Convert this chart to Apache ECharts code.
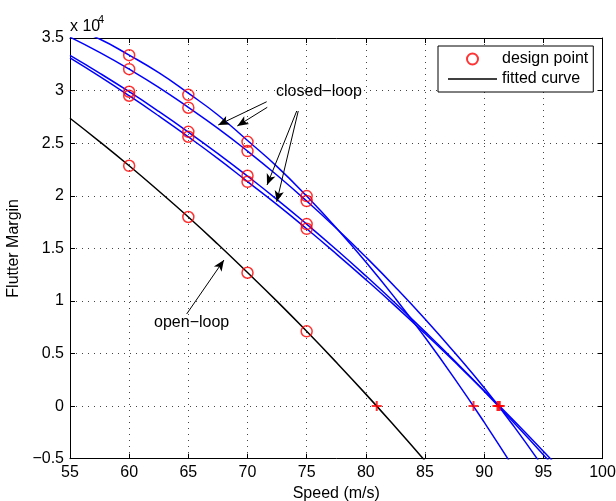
<!DOCTYPE html>
<html><head><meta charset="utf-8">
<script src="https://cdn.jsdelivr.net/npm/echarts@6/dist/echarts.min.js"></script>
<style>html,body{margin:0;padding:0;background:#fff}#c{width:616px;height:501px}</style>
</head><body><div id="c"></div>
<script>
// ---- data (Flutter Margin in units of 10^4) ----
const designSpeeds = [60, 65, 70, 75];
const designA = [3.337, 2.960, 2.513, 1.997];
const designB = [3.204, 2.837, 2.425, 1.950];
const designC = [2.989, 2.608, 2.190, 1.731];
const designD = [2.951, 2.561, 2.133, 1.686];
const designOpen = [2.285, 1.798, 1.268, 0.711];

const curveSpeeds = [55, 57.5, 60, 62.5, 65, 67.5, 70, 72.5, 75, 77.5, 80, 82.5, 85, 87.5, 90, 92.5, 95, 97.5];
const closedA = [3.603, 3.490, 3.337, 3.170, 2.975, 2.768, 2.525, 2.277, 1.997, 1.695, 1.371, 1.024, 0.654, 0.262, -0.153, -0.589, -1.050, -1.530];
const closedB = [3.508, 3.363, 3.204, 3.031, 2.840, 2.641, 2.425, 2.195, 1.950, 1.691, 1.418, 1.131, 0.829, 0.510, 0.175, -0.190, -0.585, -1.000];
const closedC = [3.334, 3.166, 2.989, 2.802, 2.606, 2.401, 2.187, 1.964, 1.731, 1.489, 1.238, 0.978, 0.708, 0.430, 0.142, -0.156, -0.462, -0.777];
const closedD = [3.311, 3.135, 2.951, 2.759, 2.560, 2.353, 2.135, 1.916, 1.686, 1.448, 1.203, 0.951, 0.690, 0.421, 0.146, -0.137, -0.429, -0.728];
const openCurve = [2.737, 2.515, 2.285, 2.045, 1.798, 1.539, 1.270, 0.996, 0.711, 0.417, 0.114, -0.199, -0.520];

const flutterSpeeds = [80.92, 89.10, 91.12, 91.22, 91.32];

const xMin = 55, xMax = 100, xStep = 5;
const yMin = -0.5, yMax = 3.5, yStep = 0.5;

// ---- build ----
const pairs = (xs, ys) => ys.map((y, i) => [xs[i], y]);
const FONT = "'Liberation Sans', Arial, Helvetica, sans-serif";
const fmt = v => String(v).replace('-', '\u2212');

const designPts = [].concat(
  pairs(designSpeeds, designA), pairs(designSpeeds, designB),
  pairs(designSpeeds, designC), pairs(designSpeeds, designD),
  pairs(designSpeeds, designOpen));

const blueLine = (name, ys) => ({
  name, type: 'line', data: pairs(curveSpeeds, ys), smooth: true, symbol: 'none',
  showSymbol: false, clip: true, lineStyle: { color: '#0000ff', width: 1.5 }, z: 3
});

const grid = { left: 70, top: 38, width: 532.5, height: 420.7, outerBoundsMode: 'none', containLabel: false };
const gridLine = { show: true, lineStyle: { color: '#444', width: 1, type: [1, 5] } };

const option = {
  animation: false,
  backgroundColor: '#fff',
  textStyle: { fontFamily: FONT },
  grid,
  xAxis: [{
    type: 'value', min: xMin, max: xMax, interval: xStep, position: 'bottom',
    axisLine: { onZero: false, lineStyle: { color: '#000', width: 1 } },
    axisTick: { inside: true, length: 5, lineStyle: { color: '#000' } },
    axisLabel: { color: '#000', fontSize: 16, margin: 6, fontFamily: FONT, formatter: fmt },
    splitLine: gridLine,
    name: 'Speed (m/s)', nameLocation: 'middle', nameGap: 26,
    nameTextStyle: { color: '#000', fontSize: 16, fontFamily: FONT }
  }, {
    type: 'value', min: xMin, max: xMax, interval: xStep, position: 'top',
    axisLine: { onZero: false, lineStyle: { color: '#000', width: 1 } },
    axisTick: { inside: true, length: 5, lineStyle: { color: '#000' } },
    axisLabel: { show: false }, splitLine: { show: false }
  }],
  yAxis: [{
    type: 'value', min: yMin, max: yMax, interval: yStep, position: 'left',
    axisLine: { onZero: false, lineStyle: { color: '#000', width: 1 } },
    axisTick: { inside: true, length: 5, lineStyle: { color: '#000' } },
    axisLabel: { color: '#000', fontSize: 16, margin: 6, fontFamily: FONT, formatter: fmt },
    splitLine: gridLine,
    name: 'Flutter Margin', nameLocation: 'middle', nameGap: 42, nameRotate: 90,
    nameTextStyle: { color: '#000', fontSize: 16, fontFamily: FONT }
  }, {
    type: 'value', min: yMin, max: yMax, interval: yStep, position: 'right',
    axisLine: { onZero: false, lineStyle: { color: '#000', width: 1 } },
    axisTick: { inside: true, length: 5, lineStyle: { color: '#000' } },
    axisLabel: { show: false }, splitLine: { show: false }
  }],
  legend: {
    orient: 'vertical', left: 438, top: 46,
    padding: [5, 5, 5, 10], itemGap: 4, itemWidth: 49, itemHeight: 11,
    borderColor: '#000', borderWidth: 1, backgroundColor: '#fff',
    textStyle: { color: '#000', fontSize: 16, fontFamily: FONT },
    data: [
      { name: 'design point', icon: 'circle' },
      { name: 'fitted curve', icon: 'path://M0,0L49,0L49,1.5L0,1.5Z', itemStyle: { color: '#000', borderWidth: 0 } }
    ]
  },
  graphic: [
    { type: 'text', left: 70, top: 19, style: { text: 'x 10', fontSize: 16, fontFamily: FONT, fill: '#000' } },
    { type: 'text', left: 98, top: 14, style: { text: '4', fontSize: 11, fontFamily: FONT, fill: '#000' } }
  ],
  series: [
    {
      name: 'fitted curve', type: 'line', data: pairs(curveSpeeds, openCurve), smooth: true,
      symbol: 'none', showSymbol: false, clip: true, lineStyle: { color: '#000', width: 1.5 },
      itemStyle: { color: '#000' }, z: 3
    },
    blueLine('closed-loop A', closedA),
    blueLine('closed-loop B', closedB),
    blueLine('closed-loop C', closedC),
    blueLine('closed-loop D', closedD),
    {
      name: 'design point', type: 'scatter', data: designPts, symbol: 'circle', symbolSize: 11,
      itemStyle: { color: 'rgba(0,0,0,0)', borderColor: '#ff0000', borderWidth: 1.5 }, z: 5
    },
    {
      name: 'flutter speed', type: 'scatter', data: flutterSpeeds.map(v => [v, 0]),
      symbol: 'path://M5,0L5,10M0,5L10,5', symbolSize: 10,
      itemStyle: { color: 'rgba(0,0,0,0)', borderColor: '#ff0000', borderWidth: 2 }, z: 6
    },
    {
      name: 'annotations', type: 'line', data: [], z: 7,
      markLine: {
        silent: true, symbol: ['none', 'arrow'], symbolSize: [7, 11],
        label: { show: false },
        lineStyle: { color: '#000', width: 1, type: 'solid' },
        data: [
          [{ coord: [71.62, 2.894] }, { coord: [67.53, 2.673] }],
          [{ coord: [71.67, 2.841] }, { coord: [69.14, 2.664] }],
          [{ coord: [74.16, 2.806] }, { coord: [71.65, 2.102] }],
          [{ coord: [74.29, 2.806] }, { coord: [72.47, 1.943] }],
          [{ coord: [64.86, 0.876] }, { coord: [68.01, 1.389] }]
        ]
      },
      markPoint: {
        silent: true, symbol: 'circle', symbolSize: 0,
        label: { show: true, position: 'inside', color: '#000', fontSize: 16, fontFamily: FONT, formatter: '{b}' },
        data: [
          { name: 'closed\u2212loop', coord: [76.04, 2.986] },
          { name: 'open\u2212loop', coord: [65.28, 0.793] }
        ]
      }
    }
  ]
};

const chart = echarts.init(document.getElementById('c'), null, { renderer: 'canvas' });
chart.setOption(option);
</script>
</body></html>
